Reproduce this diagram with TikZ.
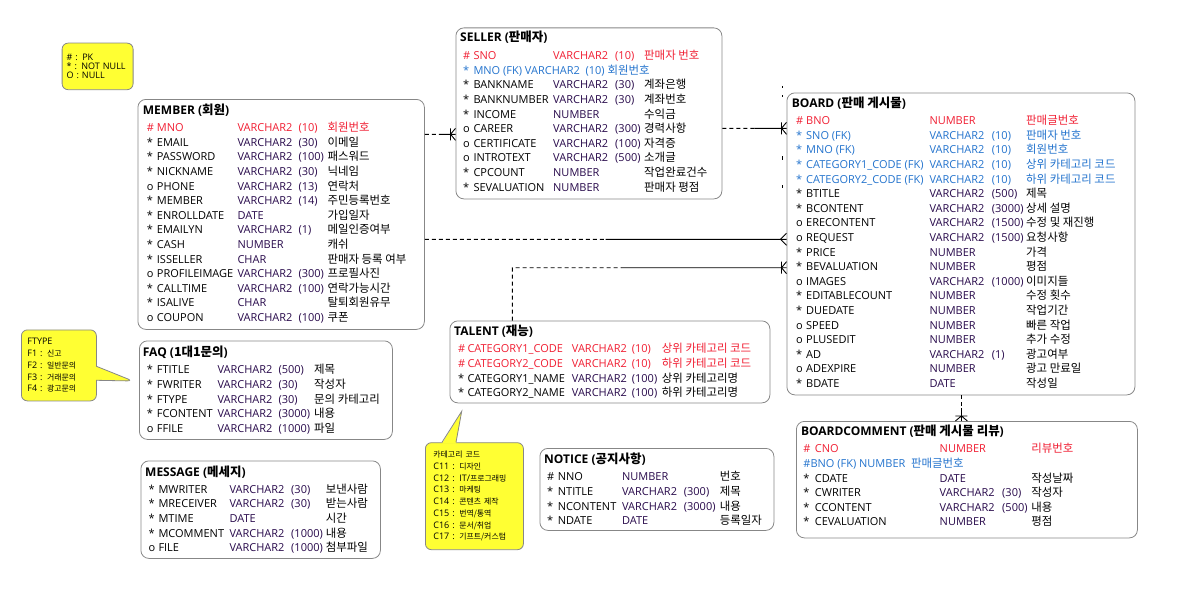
\documentclass[tikz,border=0pt]{standalone}
\usepackage{fontspec}
\setmainfont{Open Sans}
\newfontfamily\kr{Noto Sans CJK KR}[Scale=1.04]
\newfontfamily\krn{Noto Sans CJK KR}[Scale=0.88]
\usetikzlibrary{calc,shapes.callouts}

\definecolor{pkred}{RGB}{240,30,50}
\definecolor{fkblue}{RGB}{35,115,205}
\definecolor{typecol}{RGB}{40,10,75}
\definecolor{notefill}{RGB}{255,255,51}
\definecolor{boxline}{RGB}{135,135,135}

\begin{document}
\begin{tikzpicture}[x=1pt,y=-1pt,
    tbl/.style={draw=boxline, line width=0.8pt, rounded corners=8pt, anchor=north west, inner sep=0pt},
    ttl/.style={anchor=west, inner sep=0pt, text height=8.6pt, text depth=0pt, font=\fontsize{12}{14}\selectfont\bfseries},
    cell/.style={anchor=west, inner sep=0pt, text height=7.8pt, text depth=0pt, font=\fontsize{11}{13}\selectfont},
    typ/.style={text=typecol},
    nn/.style={}, pk/.style={text=pkred}, fk/.style={text=fkblue},
    note/.style={draw=boxline, fill=notefill, line width=0.8pt, rounded corners=6pt, anchor=north west,
        align=left, inner xsep=0pt, font=\fontsize{9}{11.7}\selectfont},
    rel/.style={line width=0.9pt},
    opt/.style={rel, dash pattern=on 4pt off 3pt},
    crowbar/.pic={\draw[rel] (0,-6) -- (-5,0) -- (0,6) (-5,-6) -- (-5,6);},
    crow/.pic={\draw[rel] (0,-6) -- (-6,0) -- (0,6);}
  ]
  \useasboundingbox (0,0) rectangle (1189,602);

  \def\cols(#1,#2,#3,#4,#5){\def\xm{#1}\def\xn{#2}\def\xt{#3}\def\xs{#4}\def\xc{#5}}
  \def\rows#1#2#3{%
    \foreach \k/\m/\n/\t/\s/\c [count=\i from 0] in {#3} {
      \path (\xm,#2+\i*14.6) node[cell,\k] (#1-\i-m) {\m}
            (\xn,#2+\i*14.6) node[cell,\k] (#1-\i-n) {\n}
            (\xt,#2+\i*14.6) node[cell,typ,\k] (#1-\i-t) {\t}
            (\xs,#2+\i*14.6) node[cell,typ,\k] (#1-\i-s) {\s}
            (\xc,#2+\i*14.6) node[cell,\k] (#1-\i-c) {\kr\c};
    }}
  \def\link(#1)(#2)#3{%
    \draw[opt] (#1) -- ($(#1)!.5!(#2)$);
    \draw[rel] ($(#1)!.5!(#2)$) -- (#2) pic[pos=1, sloped, allow upside down]{#3};}

  \node[tbl, minimum width=286.5pt, minimum height=230pt] (member) at (137.5,99) {};
  \node[ttl] (member-t) at (142.7,110) {MEMBER ({\kr 회원})};
  \cols(146.7,156.7,237.3,298.3,327.3)
  \rows{member}{127.7}{pk/\#/MNO/VARCHAR2/(10)/회원번호,
    nn/*/EMAIL/VARCHAR2/(30)/이메일,
    nn/*/PASSWORD/VARCHAR2/(100)/패스워드,
    nn/*/NICKNAME/VARCHAR2/(30)/닉네임,
    nn/o/PHONE/VARCHAR2/(13)/연락처,
    nn/*/MEMBER/VARCHAR2/(14)/주민등록번호,
    nn/*/ENROLLDATE/DATE//가입일자,
    nn/*/EMAILYN/VARCHAR2/(1)/메일인증여부,
    nn/*/CASH/NUMBER//캐쉬,
    nn/*/ISSELLER/CHAR//판매자 등록 여부,
    nn/o/PROFILEIMAGE/VARCHAR2/(300)/프로필사진,
    nn/*/CALLTIME/VARCHAR2/(100)/연락가능시간,
    nn/*/ISALIVE/CHAR//탈퇴회원유무,
    nn/o/COUPON/VARCHAR2/(100)/쿠폰}

  \node[tbl, minimum width=266pt, minimum height=171pt] (seller) at (455.5,27.5) {};
  \node[ttl] (seller-t) at (460,37.3) {SELLER ({\kr 판매자})};
  \cols(463,473.3,553,615,644)
  \rows{seller}{55.7}{pk/\#/SNO/VARCHAR2/(10)/판매자 번호,
    fk/*/MNO (FK) VARCHAR2\ \ (10) {\kr 회원번호}///,
    nn/*/BANKNAME/VARCHAR2/(30)/계좌은행,
    nn/*/BANKNUMBER/VARCHAR2/(30)/계좌번호,
    nn/*/INCOME/NUMBER//수익금,
    nn/o/CAREER/VARCHAR2/(300)/경력사항,
    nn/o/CERTIFICATE/VARCHAR2/(100)/자격증,
    nn/o/INTROTEXT/VARCHAR2/(500)/소개글,
    nn/*/CPCOUNT/NUMBER//작업완료건수,
    nn/*/SEVALUATION/NUMBER//판매자 평점}

  \node[tbl, minimum width=348pt, minimum height=302pt] (board) at (786.5,92.5) {};
  \node[ttl] (board-t) at (791.7,102.7) {BOARD ({\kr 판매 게시물})};
  \cols(796,806,929.3,991.7,1026)
  \rows{board}{120.7}{pk/\#/BNO/NUMBER//판매글번호,
    fk/*/SNO (FK)/VARCHAR2/(10)/판매자 번호,
    fk/*/MNO (FK)/VARCHAR2/(10)/회원번호,
    fk/*/CATEGORY1\_CODE (FK)/VARCHAR2/(10)/상위 카테고리 코드,
    fk/*/CATEGORY2\_CODE (FK)/VARCHAR2/(10)/하위 카테고리 코드,
    nn/*/BTITLE/VARCHAR2/(500)/제목,
    nn/*/BCONTENT/VARCHAR2/(3000)/상세 설명,
    nn/o/ERECONTENT/VARCHAR2/(1500)/수정 및 재진행,
    nn/o/REQUEST/VARCHAR2/(1500)/요청사항,
    nn/*/PRICE/NUMBER//가격,
    nn/*/BEVALUATION/NUMBER//평점,
    nn/o/IMAGES/VARCHAR2/(1000)/이미지들,
    nn/*/EDITABLECOUNT/NUMBER//수정 횟수,
    nn/*/DUEDATE/NUMBER//작업기간,
    nn/o/SPEED/NUMBER//빠른 작업,
    nn/o/PLUSEDIT/NUMBER//추가 수정,
    nn/*/AD/VARCHAR2/(1)/광고여부,
    nn/o/ADEXPIRE/NUMBER//광고 만료일,
    nn/*/BDATE/DATE//작성일}

  \node[tbl, minimum width=320pt, minimum height=82pt] (talent) at (449.5,320.5) {};
  \node[ttl] (talent-t) at (454,331) {TALENT ({\kr 재능})};
  \cols(458,467.3,571.7,631.7,661.7)
  \rows{talent}{349}{pk/\#/CATEGORY1\_CODE/VARCHAR2/(10)/상위 카테고리 코드,
    pk/\#/CATEGORY2\_CODE/VARCHAR2/(10)/하위 카테고리 코드,
    nn/*/CATEGORY1\_NAME/VARCHAR2/(100)/상위 카테고리명,
    nn/*/CATEGORY2\_NAME/VARCHAR2/(100)/하위 카테고리명}

  \node[tbl, minimum width=253pt, minimum height=98.5pt] (faq) at (139,340.5) {};
  \node[ttl] (faq-t) at (142.7,352.3) {FAQ ({\kr 1대1문의})};
  \cols(146.7,156.7,217.3,278.3,314)
  \rows{faq}{370}{nn/*/FTITLE/VARCHAR2/(500)/제목,
    nn/*/FWRITER/VARCHAR2/(30)/작성자,
    nn/*/FTYPE/VARCHAR2/(30)/문의 카테고리,
    nn/*/FCONTENT/VARCHAR2/(3000)/내용,
    nn/o/FFILE/VARCHAR2/(1000)/파일}

  \node[tbl, minimum width=239.5pt, minimum height=97.5pt] (message) at (140.5,460.5) {};
  \node[ttl] (message-t) at (145,471.7) {MESSAGE ({\kr 메세지})};
  \cols(148.3,158.3,229.3,291,325.7)
  \rows{message}{489.3}{nn/*/MWRITER/VARCHAR2/(30)/보낸사람,
    nn/*/MRECEIVER/VARCHAR2/(30)/받는사람,
    nn/*/MTIME/DATE//시간,
    nn/*/MCOMMENT/VARCHAR2/(1000)/내용,
    nn/o/FILE/VARCHAR2/(1000)/첨부파일}

  \node[tbl, minimum width=234pt, minimum height=82pt] (notice) at (539.5,448) {};
  \node[ttl] (notice-t) at (544,459) {NOTICE ({\kr 공지사항})};
  \cols(547,557.7,621.9,683.7,719.6)
  \rows{notice}{477}{nn/\#/NNO/NUMBER//번호,
    nn/*/NTITLE/VARCHAR2/(300)/제목,
    nn/*/NCONTENT/VARCHAR2/(3000)/내용,
    nn/*/NDATE/DATE//등록일자}

  \node[tbl, minimum width=341pt, minimum height=116.5pt] (comment) at (796,421) {};
  \node[ttl] (comment-t) at (800.8,431) {BOARDCOMMENT ({\kr 판매 게시물 리뷰})};
  \cols(803.2,814.7,939.5,1002,1031.2)
  \rows{comment}{449}{pk/\#/CNO/NUMBER//리뷰번호,
    fk/\#BNO (FK) NUMBER\ \ {\kr 판매글번호}////,
    nn/*/CDATE/DATE//작성날짜,
    nn/*/CWRITER/VARCHAR2/(30)/작성자,
    nn/*/CCONTENT/VARCHAR2/(500)/내용,
    nn/*/CEVALUATION/NUMBER//평점}

  \node[note, minimum width=71pt, minimum height=46.6pt, text width=62pt,
    font=\fontsize{9}{9.3}\selectfont] (legend) at (61.7,42.7) {\# : PK\\{*} : NOT~NULL\\O : NULL};
  \node[note, rectangle callout, callout pointer width=14pt,
    callout absolute pointer={([xshift=-6pt]faq.west |- 0,381)},
    minimum width=75pt, minimum height=71pt, text width=63pt] (ftype) at (21,329.5)
    {FTYPE\\F1 : {\krn 신고}\\F2 : {\krn 일반문의}\\F3 : {\krn 거래문의}\\F4 : {\krn 광고문의}};
  \node[note, minimum width=98pt, minimum height=107pt, text width=82pt] (category) at (425,442.3)
    {{\krn 카테고리 코드}\\C11 : {\krn 디자인}\\C12 : IT/{\krn 프로그래밍}\\C13 : {\krn 마케팅}\\
     C14 : {\krn 콘텐츠 제작}\\C15 : {\krn 번역/통역}\\C16 : {\krn 문서/취업}\\C17 : {\krn 기프트/커스텀}};
  \coordinate (cat-p) at ([yshift=-8pt]talent.south -| 461.7,0);
  \fill[notefill] ([xshift=17pt,yshift=-1.2pt]category.north west) -- (cat-p)
    -- ([xshift=31pt,yshift=-1.2pt]category.north west) -- cycle;
  \draw[boxline, line width=0.8pt] ([xshift=17pt]category.north west) -- (cat-p)
    -- ([xshift=31pt]category.north west);

  \coordinate (ms-a) at (member.east |- 0,134.3);
  \coordinate (ms-b) at (seller.west |- ms-a);
  \link(ms-a)(ms-b){crowbar}
  \coordinate (sb-a) at (seller.east |- 0,128.3);
  \coordinate (sb-b) at (board.west |- sb-a);
  \link(sb-a)(sb-b){crowbar}
  \coordinate (mb-a) at (member.east |- 0,239.3);
  \coordinate (mb-b) at (board.west |- mb-a);
  \link(mb-a)(mb-b){crow}
  \coordinate (bc-a) at (board.south -| 961.4,0);
  \coordinate (bc-b) at (comment.north -| bc-a);
  \link(bc-a)(bc-b){crowbar}
  \coordinate (tb-a) at (talent.north -| 512.3,0);
  \coordinate (tb-b) at (board.west |- 0,267.7);
  \coordinate (tb-c) at (tb-a |- tb-b);
  \coordinate (tb-m) at ($(tb-c)!.4!(tb-b)$);
  \draw[opt] (tb-a) -- (tb-c) -- (tb-m);
  \draw[rel] (tb-m) -- (tb-b) pic[pos=1, sloped]{crowbar};

  \draw[line width=0.8pt, dash pattern=on 2pt off 7pt on 2pt off 59pt on 4pt off 25pt on 3pt off 20pt]
    ([xshift=-4.5pt]board.north west |- 0,86) -- ([xshift=-4.5pt]board.north west |- 0,198);
\end{tikzpicture}
\end{document}
